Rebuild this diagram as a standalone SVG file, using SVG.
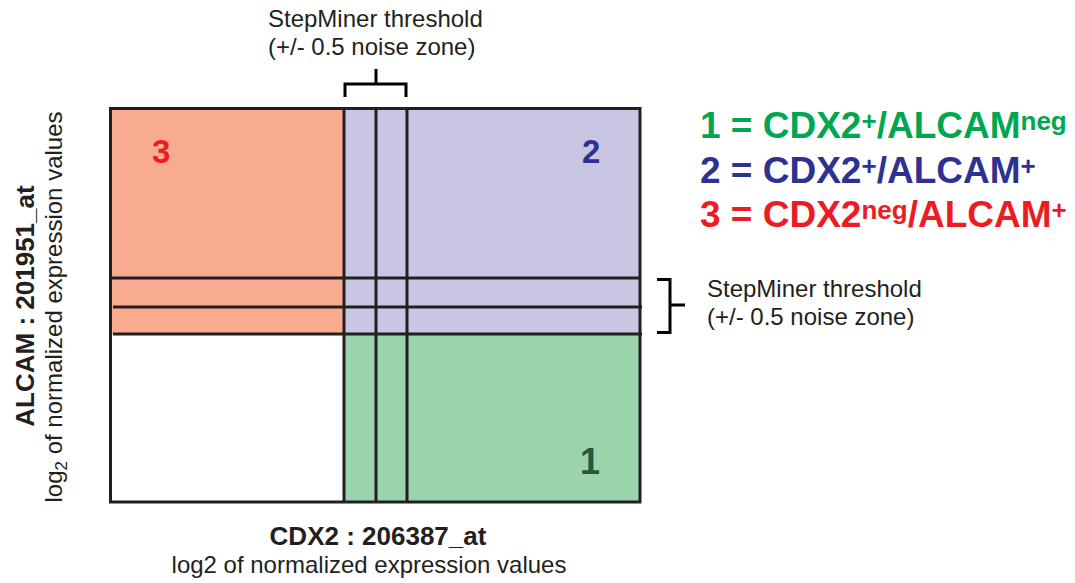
<svg xmlns="http://www.w3.org/2000/svg" width="1075" height="583" viewBox="0 0 1075 583">
  <style>
    .lbl { font-family: "Liberation Sans", Arial, sans-serif; font-size: 24px; fill: #231f20; }
    .bold { font-family: "Liberation Sans", Arial, sans-serif; font-weight: bold; fill: #231f20; }
    .grid { stroke: #231f20; stroke-width: 3; fill: none; }
    .brace { stroke: #000; stroke-width: 3; fill: none; }
    .leg { font-family: "Liberation Sans", Arial, sans-serif; font-weight: bold; font-size: 37px; }
    .sup { font-size: 26px; }
  </style>

  <!-- quadrant fills -->
  <g id="quadrant-3">
    <rect x="110" y="108" width="234" height="226" fill="#f8ab8f"/>
    <text class="bold" x="152" y="163" font-size="33" fill="#ed1c24" style="fill:#ed1c24">3</text>
  </g>
  <g id="quadrant-2">
    <rect x="344" y="108" width="296" height="226" fill="#c8c6e2"/>
    <text class="bold" x="582" y="163" font-size="33" style="fill:#2e3192">2</text>
  </g>
  <g id="quadrant-1">
    <rect x="344" y="334" width="296" height="168" fill="#9bd3ad"/>
    <text class="bold" x="580" y="474" font-size="36" style="fill:#1e5c3a">1</text>
  </g>
  <g id="quadrant-empty">
    <rect x="110" y="334" width="234" height="168" fill="#ffffff"/>
  </g>

  <!-- threshold grid and frame -->
  <g id="grid">
    <line class="grid" x1="344" y1="108" x2="344" y2="502" stroke-width="2"/>
    <line class="grid" x1="376" y1="108" x2="376" y2="502"/>
    <line class="grid" x1="407" y1="108" x2="407" y2="502"/>
    <line class="grid" x1="110" y1="278" x2="640" y2="278"/>
    <line class="grid" x1="113" y1="307" x2="642" y2="307"/>
    <line class="grid" x1="113" y1="334" x2="642" y2="334"/>
    <rect class="grid" x="110.5" y="108.5" width="529.5" height="393.5"/>
  </g>

  <!-- brackets marking the noise zones -->
  <g id="connectors">
    <path class="brace" d="M345 97 V84 H406 V97 M376 84 V69"/>
    <path class="brace" d="M657 279.5 H670 V332.5 H657 M670 305 H685"/>
  </g>

  <g id="threshold-top">
    <text class="lbl" x="268" y="27">StepMiner threshold</text>
    <text class="lbl" x="268" y="55">(+/- 0.5 noise zone)</text>
  </g>
  <g id="threshold-right">
    <text class="lbl" x="707" y="297">StepMiner threshold</text>
    <text class="lbl" x="707" y="325">(+/- 0.5 noise zone)</text>
  </g>

  <!-- legend -->
  <g id="legend">
    <text class="leg" x="700" y="138" fill="#00a651">1 = CDX2<tspan class="sup" dy="-8">+</tspan><tspan dy="8">/ALCAM</tspan><tspan class="sup" dy="-8">neg</tspan></text>
    <text class="leg" x="700" y="183" fill="#2e3192">2 = CDX2<tspan class="sup" dy="-8">+</tspan><tspan dy="8">/ALCAM</tspan><tspan class="sup" dy="-8">+</tspan></text>
    <text class="leg" x="700" y="227" fill="#ed1c24">3 = CDX2<tspan class="sup" dy="-8">neg</tspan><tspan dy="8">/ALCAM</tspan><tspan class="sup" dy="-8">+</tspan></text>
  </g>

  <!-- axis titles -->
  <g id="axis-x">
    <text class="bold" x="378" y="545" font-size="26" text-anchor="middle">CDX2 : 206387_at</text>
    <text class="lbl" x="369" y="573" text-anchor="middle">log2 of normalized expression values</text>
  </g>
  <g id="axis-y">
    <text class="bold" transform="translate(34,306) rotate(-90)" font-size="26" text-anchor="middle">ALCAM : 201951_at</text>
    <text class="lbl" transform="translate(62,307) rotate(-90)" text-anchor="middle">log<tspan dy="5" font-size="17">2</tspan><tspan dy="-5"> of normalized expression values</tspan></text>
  </g>
</svg>
